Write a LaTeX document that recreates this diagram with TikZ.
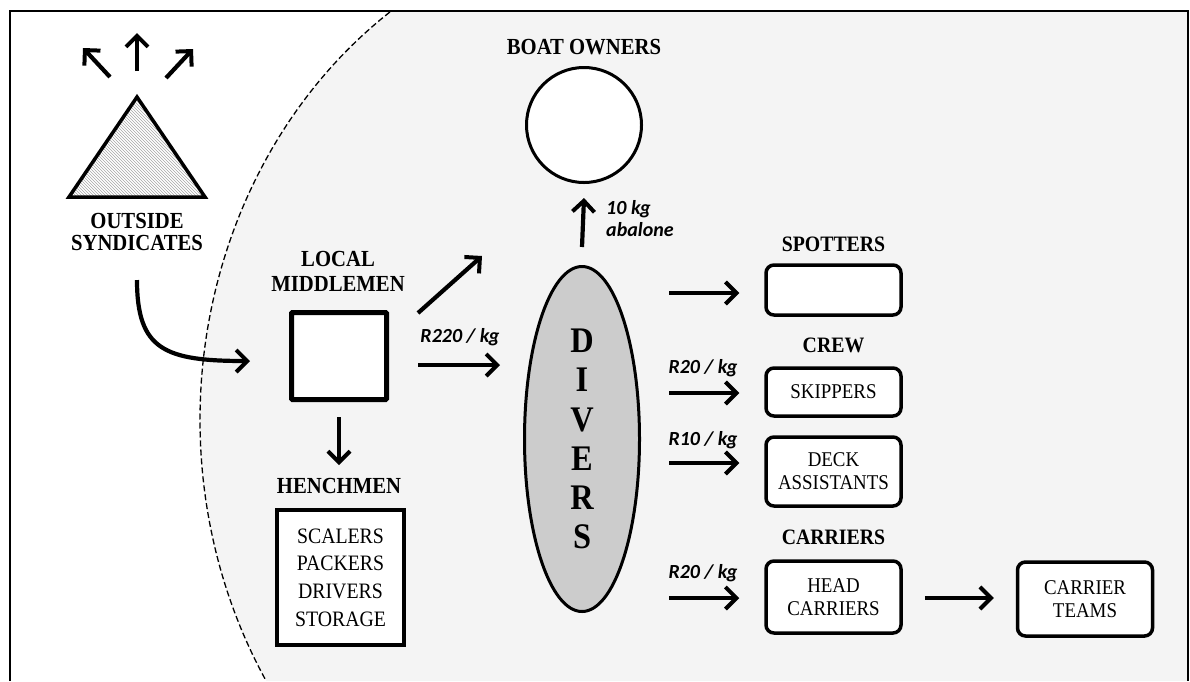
\documentclass[tikz,border=0pt]{standalone}
\usepackage{fontspec}
\setmainfont[FakeStretch=0.9]{Liberation Serif}
\newfontfamily\lblfont{Carlito}
\usetikzlibrary{arrows.meta,patterns,shapes.geometric}
\definecolor{bgc}{HTML}{F4F4F4}
\definecolor{divc}{HTML}{CCCCCC}
\begin{document}
\begin{tikzpicture}[x=1pt,y=-1pt,
  arr/.style={line width=4.2pt,-{Straight Barb[length=11pt,width=22pt,line width=4pt]}},
  hd/.style={font=\fontsize{22}{26}\selectfont\bfseries, align=center, inner sep=0},
  rt/.style={font=\lblfont\fontsize{20}{22}\selectfont\bfseries\itshape, inner sep=0},
  rbox/.style={draw, line width=3.5pt, rounded corners=8pt, fill=white, minimum width=135pt,
    align=center, font=\fontsize{21}{23}\selectfont, inner sep=0}
]
\useasboundingbox (0,0) rectangle (1190,681);
% grey region
\fill[bgc] plot[domain=12:681,samples=90] ({650-450*sqrt(1-((\x-420)/500)^2)},\x)
  -- (1188,681) -- (1188,11) -- cycle;
\draw[dash pattern=on 6pt off 3pt, line width=1.3pt] plot[domain=12:681,samples=90] ({650-450*sqrt(1-((\x-420)/500)^2)},\x);
% frame
\draw[line width=2.2pt] (10,681) -- (10,11) -- (1188,11) -- (1188,681);

% outside syndicates
\coordinate (apex) at (137,97);
\coordinate (bl) at (69,197);
\coordinate (br) at (205,197);
\draw[line width=3.5pt, pattern=north west lines, pattern color=gray!70] (bl) -- (apex) -- (br) -- cycle;
\draw[arr] ([shift={(-27,-20)}]apex) -- ([shift={(-54,-49)}]apex);
\draw[arr] ([shift={(0,-26)}]apex) -- ([shift={(0,-64)}]apex);
\draw[arr] ([shift={(29,-19)}]apex) -- ([shift={(56,-48)}]apex);
\node[hd, font=\fontsize{23}{22}\selectfont\bfseries] (synd) at (137,232) {OUTSIDE\\SYNDICATES};

% local middlemen
\node[hd, font=\fontsize{23}{25}\selectfont\bfseries] (midlbl) at (338,271) {LOCAL\\MIDDLEMEN};
\node[draw, line width=5pt, fill=white, minimum width=95pt, minimum height=87pt, inner sep=0,
  rounded corners=1pt] (mid) at (339,356) {};
\draw[arr] ([shift={(0,48)}]synd.center) .. controls +(0,70) and +(-85,0) .. ([shift={(-39,5)}]mid.west);

% henchmen
\node[hd, font=\fontsize{23}{24}\selectfont\bfseries] (henlbl) at (339,486) {HENCHMEN};
\node[draw, line width=3.5pt, fill=white, minimum width=127pt, minimum height=135pt, inner sep=0,
  align=center, font=\fontsize{22}{27.7}\selectfont] (hen) at (340.5,577.5) {SCALERS\\PACKERS\\DRIVERS\\STORAGE};
\draw[arr] ([shift={(0,15)}]mid.south) -- ([shift={(0,63)}]mid.south);

% divers
\node[ellipse, draw, line width=3pt, fill=divc, minimum width=115pt, minimum height=345pt, inner sep=0,
  align=center, font=\fontsize{36}{39.2}\selectfont\bfseries] (div) at (582,439) {D\\I\\V\\E\\R\\S};
\draw[arr] ([shift={(29,9)}]mid.east) -- ([shift={(-23,9)}]mid.east -| div.west);
\node[rt] (r220) at (460,337) {R220 / kg};

% boat owners
\node[hd, font=\fontsize{23}{24}\selectfont\bfseries] (boatlbl) at (584,47) {BOAT OWNERS};
\node[circle, draw, line width=3pt, fill=white, minimum size=115pt, inner sep=0] (boat) at (584,125) {};
\draw[arr] ([shift={(0,-18)}]div.north) -- ([shift={(0,14)}]boat.south);
\node[rt, align=left, anchor=west] (kg10) at (606,219) {10 kg\\abalone};
\draw[arr] ([shift={(29,3)}]mid.north east) -- ([shift={(93,-54)}]mid.north east);

% right side
\node[hd] (splbl) at (833.5,244) {SPOTTERS};
\node[rbox, minimum height=50pt] (sp) at (833.5,290) {};
\node[hd] (crewlbl) at (833.5,345) {CREW};
\node[rbox, minimum height=48pt] (sk) at (833.5,392) {SKIPPERS};
\node[rbox, minimum height=69pt] (dk) at (833.5,471.5) {DECK\\ASSISTANTS};
\node[hd] (carlbl) at (833.5,537) {CARRIERS};
\node[rbox, minimum height=72pt] (hc) at (833.5,597) {HEAD\\CARRIERS};
\node[rbox, minimum height=74pt] (ct) at (1085,599) {CARRIER\\TEAMS};

\draw[arr] ([shift={(-95,3)}]sp.west) -- ([shift={(-25,3)}]sp.west);
\draw[arr] ([shift={(-95,1)}]sk.west) -- ([shift={(-25,1)}]sk.west);
\draw[arr] ([shift={(-95,-8.5)}]dk.west) -- ([shift={(-25,-8.5)}]dk.west);
\draw[arr] ([shift={(-95,1)}]hc.west) -- ([shift={(-25,1)}]hc.west);
\draw[arr] ([shift={(22,1)}]hc.east) -- ([shift={(-22,-1)}]ct.west);

\node[rt] (r20a) at (703,368) {R20 / kg};
\node[rt] (r10) at (703,440) {R10 / kg};
\node[rt] (r20b) at (703,573) {R20 / kg};
\end{tikzpicture}
\end{document}
